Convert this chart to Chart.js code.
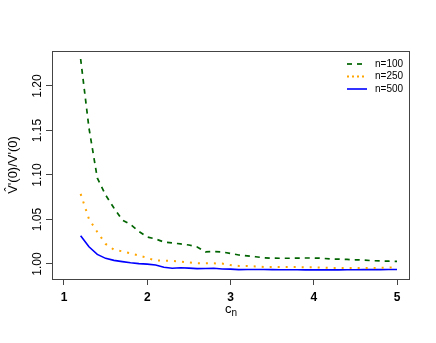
<!DOCTYPE html>
<html>
<head>
<meta charset="utf-8">
<script src="https://cdn.jsdelivr.net/npm/chart.js@4.4.1/dist/chart.umd.min.js"></script>
<style>
  html, body { margin: 0; padding: 0; background: #fff; }
</style>
</head>
<body>
<canvas id="chart" width="436" height="343"></canvas>
<script>
// c_n grid
const cn = [1.2, 1.3, 1.4, 1.5, 1.6, 1.7, 1.8, 1.9, 2.0, 2.1, 2.2, 2.3, 2.4, 2.5,
            2.6, 2.7, 2.8, 2.9, 3.0, 3.1, 3.2, 3.3, 3.4, 3.5, 3.6, 3.7, 3.8, 3.9,
            4.0, 4.1, 4.2, 4.3, 4.4, 4.5, 4.6, 4.7, 4.8, 4.9, 5.0]

// ratio V^'(0)/V'(0) for each sample size
const n100 = [1.2303, 1.1528, 1.0966, 1.0775, 1.0629, 1.0494, 1.0444, 1.0365, 1.0303,
              1.0281, 1.0247, 1.0236, 1.0225, 1.0213, 1.0191, 1.0135, 1.0140, 1.0135,
              1.0118, 1.0101, 1.0090, 1.0081, 1.0070, 1.0065, 1.0064, 1.0064, 1.0066,
              1.0067, 1.0067, 1.0064, 1.0056, 1.0054, 1.0051, 1.0047, 1.0044, 1.0037,
              1.0034, 1.0031, 1.0028]
const n250 = [1.0787, 1.0506, 1.0360, 1.0225, 1.0160, 1.0142, 1.0118, 1.0096, 1.0067,
              1.0040, 1.0037, 1.0034, 1.0027, 1.0018, 1.0008, 1.0007, 1.0007, 1.0004,
              0.9987, 0.9978, 0.9978, 0.9972, 0.9966, 0.9966, 0.9966, 0.9966, 0.9966,
              0.9963, 0.9963, 0.9960, 0.9955, 0.9955, 0.9955, 0.9955, 0.9955, 0.9955,
              0.9957, 0.9960, 0.9963]
const n500 = [1.0318, 1.0193, 1.0107, 1.0063, 1.0040, 1.0026, 1.0013, 1.0004, 0.9998,
              0.9989, 0.9963, 0.9952, 0.9958, 0.9953, 0.9948, 0.9949, 0.9951, 0.9944,
              0.9942, 0.9936, 0.9937, 0.9938, 0.9937, 0.9936, 0.9935, 0.9935, 0.9935,
              0.9934, 0.9934, 0.9934, 0.9934, 0.9934, 0.9935, 0.9935, 0.9936, 0.9936,
              0.9936, 0.9937, 0.9937]

const xTicks = [1, 2, 3, 4, 5]
const yTicks = [1.00, 1.05, 1.10, 1.15, 1.20]
const seriesNames = ['n=100', 'n=250', 'n=500']

const FONT = '"Liberation Sans", Arial, Helvetica, sans-serif'
const AXIS_COL = '#444'

const series = [
  { label: seriesNames[0], values: n100, color: '#006400', dash: [5, 5], width: 1.7 },
  { label: seriesNames[1], values: n250, color: '#FFA500', dash: [2, 6], width: 2 },
  { label: seriesNames[2], values: n500, color: '#0000FF', dash: [], width: 1.6 }
]

// R-style box, rotated y labels, axis titles and legend
const rStyle = {
  id: 'rStyle',
  afterDraw(chart) {
    const { ctx, chartArea: a, scales } = chart
    ctx.save()

    // box around plot region
    ctx.strokeStyle = AXIS_COL
    ctx.lineWidth = 1
    ctx.setLineDash([])
    ctx.strokeRect(Math.round(a.left) + 0.5, Math.round(a.top) + 0.5,
                   Math.round(a.right - a.left), Math.round(a.bottom - a.top))

    // y tick labels, rotated like R's las=0
    ctx.fillStyle = '#000'
    ctx.font = '12px ' + FONT
    ctx.textAlign = 'center'
    ctx.textBaseline = 'middle'
    yTicks.forEach(v => {
      const y = scales.y.getPixelForValue(v)
      ctx.save()
      ctx.translate(38, y)
      ctx.rotate(-Math.PI / 2)
      ctx.fillText(v.toFixed(2), 0, 0)
      ctx.restore()
    })

    // y title
    ctx.save()
    ctx.translate(13, (a.top + a.bottom) / 2)
    ctx.rotate(-Math.PI / 2)
    ctx.font = '13px ' + FONT
    ctx.fillText('V\u0302\'(0)/V\'(0)', 0, 0)
    ctx.restore()

    // x title c_n
    const cx = (a.left + a.right) / 2
    ctx.font = '13px ' + FONT
    ctx.textAlign = 'right'
    ctx.fillText('c', cx + 1, 309)
    ctx.font = '10px ' + FONT
    ctx.textAlign = 'left'
    ctx.fillText('n', cx + 1, 313)

    // legend
    ctx.font = '10px ' + FONT
    ctx.textAlign = 'left'
    series.forEach((s, i) => {
      const y = 64 + i * 12.5
      ctx.strokeStyle = s.color
      ctx.lineWidth = s.width
      ctx.setLineDash(i === 1 ? [2, 3] : s.dash)
      ctx.beginPath()
      ctx.moveTo(347, y)
      ctx.lineTo(367, y)
      ctx.stroke()
      ctx.fillStyle = '#000'
      ctx.fillText(s.label, 375, y)
    })

    ctx.restore()
  }
}

new Chart(document.getElementById('chart'), {
  type: 'line',
  data: {
    datasets: series.map(s => ({
      label: s.label,
      data: cn.map((x, i) => ({ x: x, y: s.values[i] })),
      borderColor: s.color,
      borderWidth: s.width,
      borderDash: s.dash,
      pointRadius: 0,
      tension: 0,
      fill: false
    }))
  },
  options: {
    responsive: false,
    animation: false,
    devicePixelRatio: 1,
    layout: { padding: { left: 12, top: 51, right: 27, bottom: 34 } },
    plugins: { legend: { display: false }, tooltip: { enabled: false } },
    scales: {
      x: {
        type: 'linear',
        min: 0.856,
        max: 5.144,
        afterBuildTicks: scale => { scale.ticks = xTicks.map(v => ({ value: v })) },
        afterFit: scale => { scale.height = 30 },
        grid: { drawOnChartArea: false, drawTicks: true, tickLength: 6, color: AXIS_COL },
        border: { display: false },
        ticks: {
          color: '#000',
          padding: 5,
          maxRotation: 0,
          font: { family: FONT, size: 12, weight: 'bold' },
          callback: v => String(v)
        }
      },
      y: {
        type: 'linear',
        min: 0.9831,
        max: 1.2393,
        afterBuildTicks: scale => { scale.ticks = yTicks.map(v => ({ value: v })) },
        afterFit: scale => { scale.width = 40 },
        grid: { drawOnChartArea: false, drawTicks: true, tickLength: 6, color: AXIS_COL },
        border: { display: false },
        ticks: { color: 'rgba(0,0,0,0)', padding: 2, font: { size: 12 } }
      }
    }
  },
  plugins: [rStyle]
})
</script>
</body>
</html>
